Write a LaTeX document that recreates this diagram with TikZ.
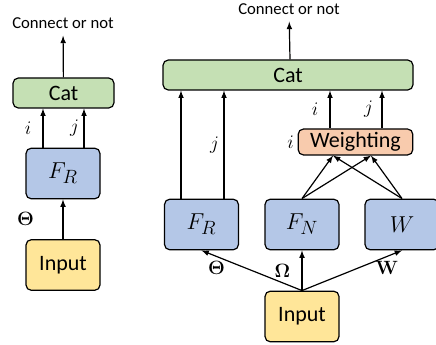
\documentclass[tikz,border=0pt]{standalone}
\usepackage[no-math]{fontspec}
\setmainfont{Carlito}
\usetikzlibrary{arrows}
\definecolor{catgreen}{HTML}{C5E0B4}
\definecolor{fblue}{HTML}{B4C7E7}
\definecolor{inyellow}{HTML}{FFE699}
\definecolor{wtorange}{HTML}{F8CBAD}

\begin{document}
\begin{tikzpicture}[->,>=latex,line width=0.9pt,x=0.75pt,y=-0.75pt,
  box/.style={draw,rounded corners=4pt,inner sep=0pt,minimum width=55.5pt,minimum height=38pt,font=\fontsize{16.5}{19}\selectfont},
  mbox/.style={box,font=\fontsize{19}{22}\selectfont},
  lbl/.style={font=\fontsize{15}{18}\selectfont},
  outtext/.style={inner sep=5pt,font=\fontsize{12.5}{15}\selectfont}]
  \useasboundingbox (0,0) rectangle (436,345);
  % left: one branch
  \node[outtext] (out1) at (63,23) {Connect or not};
  \node[box,fill=catgreen,minimum width=75.75pt,minimum height=22.5pt] (cat1) at (63.5,93) {Cat};
  \node[mbox,fill=fblue] (fr1) at (63,173.5) {$F_R$};
  \node[box,fill=inyellow] (in1) at (63,265) {Input};
  \path (cat1) edge (out1);
  \path (fr1.north -| 43,0) edge node[lbl,left=5pt] {$i$} (cat1.south -| 43,0);
  \path (fr1.north -| 84,0) edge node[lbl,left] {$j$} (cat1.south -| 84,0);
  \path (in1) edge node[lbl,left=18pt] {$\mathbf{\Theta}$} (fr1);
  % right: three branches
  \node[outtext] (out2) at (289,9) {Connect or not};
  \node[box,fill=catgreen,minimum width=187.5pt,minimum height=22.5pt] (cat2) at (288,75) {Cat};
  \node[box,fill=wtorange,minimum width=86pt,minimum height=19.5pt,
    label={[lbl,label distance=-1pt]left:$i$}] (wt) at (355.5,142) {Weighting};
  \node[mbox,fill=fblue] (fr2) at (201.5,224.5) {$F_R$};
  \node[mbox,fill=fblue] (fn) at (302,224.5) {$F_N$};
  \node[mbox,fill=fblue] (w) at (402,224.5) {$W$};
  \node[box,fill=inyellow] (in2) at (302,316.5) {Input};
  \path (cat2.north -| 290,0) edge (out2);
  \path (fr2.north -| 181,0) edge (cat2.south -| 181,0);
  \path (fr2.north -| 224,0) edge node[lbl,left] {$j$} (cat2.south -| 224,0);
  \path (wt.north -| 330,0) edge node[lbl,left=5pt] {$i$} (cat2.south -| 330,0);
  \path (wt.north -| 382,0) edge node[lbl,left=3pt] {$j$} (cat2.south -| 382,0);
  \path (fn.north) edge (wt.south -| 333,0);
  \path (fn.north) edge (wt.south -| 371,0);
  \path (w.north) edge (wt.south -| 333,0);
  \path (w.north) edge (wt.south -| 371,0);
  \path (in2.north) edge node[lbl,pos=0.85,below] {$\mathbf{\Theta}$} (fr2.south);
  \path (in2.north) edge node[lbl,left=5pt] {$\mathbf{\Omega}$} (fn.south);
  \path (in2.north) edge node[lbl,pos=0.85,below] {$\mathbf{W}$} (w.south);
\end{tikzpicture}
\end{document}
